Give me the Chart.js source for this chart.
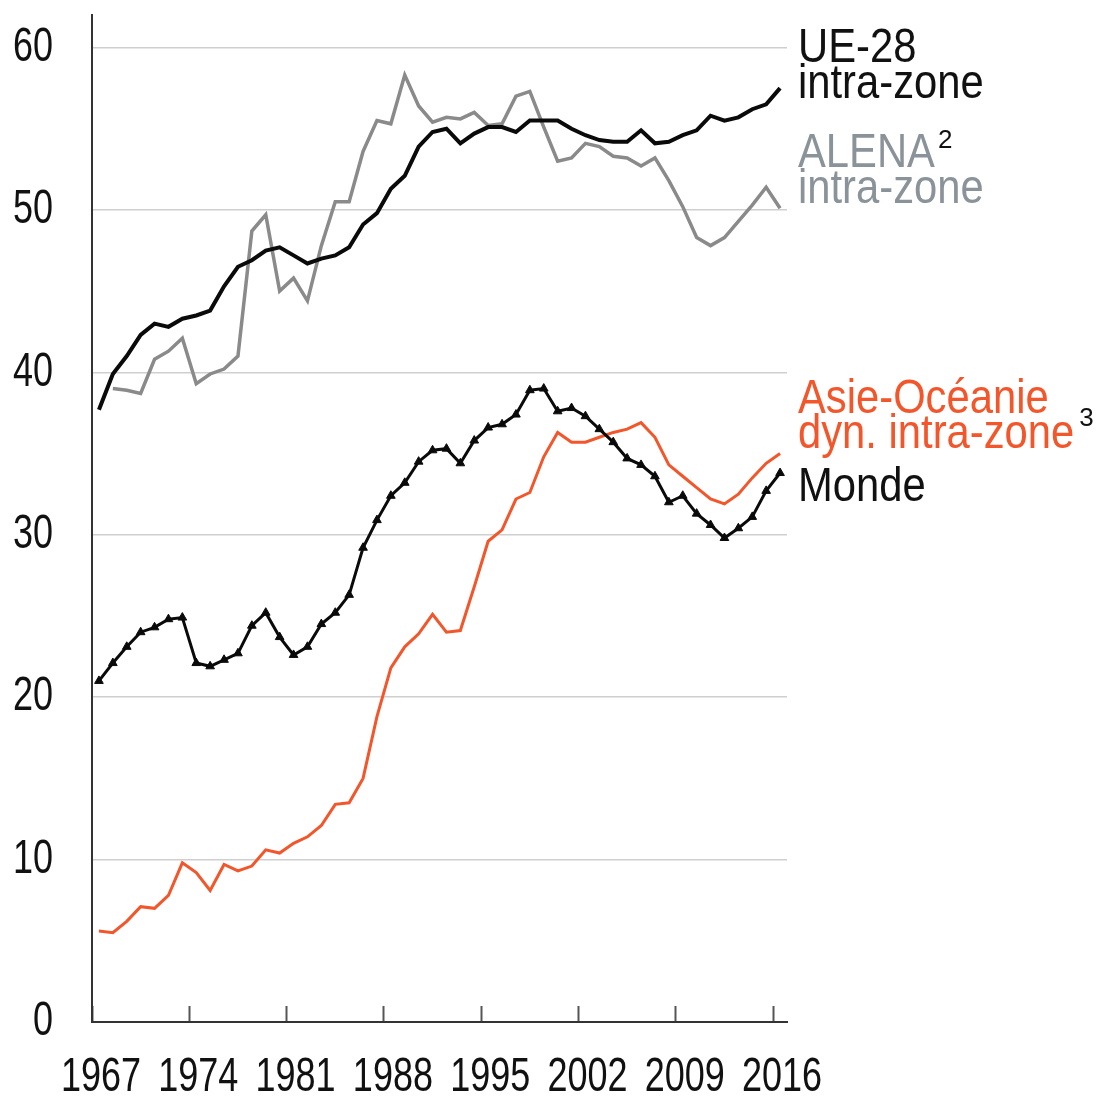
<!DOCTYPE html>
<html>
<head>
<meta charset="utf-8">
<script src="https://cdn.jsdelivr.net/npm/chart.js@4"></script>
<style>
  html, body { margin: 0; padding: 0; background: #fff; }
  canvas { display: block; }
</style>
</head>
<body>
<canvas id="chart" width="1099" height="1097"></canvas>
<script>
// years (annual values, plotted at mid-year)
const years = [1967, 1968, 1969, 1970, 1971, 1972, 1973, 1974, 1975, 1976,
               1977, 1978, 1979, 1980, 1981, 1982, 1983, 1984, 1985, 1986,
               1987, 1988, 1989, 1990, 1991, 1992, 1993, 1994, 1995, 1996,
               1997, 1998, 1999, 2000, 2001, 2002, 2003, 2004, 2005, 2006,
               2007, 2008, 2009, 2010, 2011, 2012, 2013, 2014, 2015, 2016];

const ue28 = [37.7, 39.9, 41.0, 42.3, 43.0, 42.8, 43.3, 43.5, 43.8, 45.3,
              46.5, 46.9, 47.5, 47.7, 47.2, 46.7, 47.0, 47.2, 47.7, 49.1,
              49.8, 51.3, 52.1, 53.9, 54.8, 55.0, 54.1, 54.7, 55.1, 55.1,
              54.8, 55.5, 55.5, 55.5, 55.0, 54.6, 54.3, 54.2, 54.2, 54.9,
              54.1, 54.2, 54.6, 54.9, 55.8, 55.5, 55.7, 56.2, 56.5, 57.5];

const alena = [null, 39.0, 38.9, 38.7, 40.8, 41.3, 42.1, 39.3, 39.9, 40.2,
               41.0, 48.7, 49.7, 45.0, 45.8, 44.4, 47.8, 50.5, 50.5, 53.6,
               55.5, 55.3, 58.3, 56.4, 55.4, 55.7, 55.6, 56.0, 55.2, 55.3,
               57.0, 57.3, 55.1, 53.0, 53.2, 54.1, 53.9, 53.3, 53.2, 52.7,
               53.2, 51.8, 50.2, 48.3, 47.8, 48.3, 49.3, 50.3, 51.4, 50.1];

const monde = [21.0, 22.1, 23.1, 24.0, 24.3, 24.8, 24.9, 22.1, 21.9, 22.3,
               22.7, 24.4, 25.2, 23.7, 22.6, 23.1, 24.5, 25.2, 26.3, 29.2,
               30.9, 32.4, 33.2, 34.5, 35.2, 35.3, 34.4, 35.8, 36.6, 36.8,
               37.4, 38.9, 39.0, 37.6, 37.8, 37.3, 36.5, 35.7, 34.7, 34.3,
               33.6, 32.0, 32.4, 31.3, 30.6, 29.8, 30.4, 31.1, 32.7, 33.8];

const asieOceanie = [5.6, 5.5, 6.2, 7.1, 7.0, 7.8, 9.8, 9.2, 8.1, 9.7,
                     9.3, 9.6, 10.6, 10.4, 11.0, 11.4, 12.1, 13.4, 13.5, 15.0,
                     18.8, 21.8, 23.1, 23.9, 25.1, 24.0, 24.1, 26.8, 29.6, 30.3,
                     32.2, 32.6, 34.8, 36.3, 35.7, 35.7, 36.0, 36.3, 36.5, 36.9,
                     36.0, 34.3, 33.6, 32.9, 32.2, 31.9, 32.5, 33.5, 34.4, 35.0];

const xTicks = [1967, 1974, 1981, 1988, 1995, 2002, 2009, 2016];
const yTicks = [0, 10, 20, 30, 40, 50, 60];

const ORANGE = '#f2562a';
const GREY_LINE = '#8a8a8a';
const GREY_TEXT = '#8b939a';
const FONT = "'Liberation Sans', Arial, sans-serif";

function toPoints(values) {
  return values.map((v, i) => ({ x: years[i] + 0.5, y: v }));
}

// the original uses a narrow typeface: squeeze text horizontally
const narrowText = {
  id: 'narrowText',
  beforeInit(chart) {
    const ctx = chart.ctx;
    const orig = ctx.fillText;
    ctx.fillText = function (text, x, y, maxWidth) {
      const sx = this.__sx || 1;
      if (sx === 1) {
        return maxWidth === undefined ? orig.call(this, text, x, y) : orig.call(this, text, x, y, maxWidth);
      }
      this.save();
      this.translate(x, y);
      this.scale(sx, 1);
      if (maxWidth === undefined) orig.call(this, text, 0, 0);
      else orig.call(this, text, 0, 0, maxWidth / sx);
      this.restore();
    };
  },
  beforeDraw(chart) {
    chart.ctx.__sx = 0.75;
  },
  afterDraw(chart) {
    chart.ctx.__sx = 1;
  }
};

// series names drawn at the right of the plot
const seriesLabels = {
  id: 'seriesLabels',
  afterDraw(chart) {
    const ctx = chart.ctx;
    const sx = 0.87;
    ctx.save();
    ctx.__sx = sx;
    ctx.textAlign = 'left';
    ctx.textBaseline = 'alphabetic';
    const x = 798;
    ctx.font = '48px ' + FONT;
    ctx.fillStyle = '#111';
    ctx.fillText('UE-28', x, 62);
    ctx.fillText('intra-zone', x, 98);
    ctx.fillStyle = GREY_TEXT;
    ctx.fillText('ALENA', x, 167);
    const wAlena = ctx.measureText('ALENA').width * sx;
    ctx.fillText('intra-zone', x, 203);
    ctx.fillStyle = ORANGE;
    ctx.fillText('Asie-Océanie', x, 413);
    ctx.fillText('dyn. intra-zone', x, 448);
    const wDyn = ctx.measureText('dyn. intra-zone').width * sx;
    ctx.fillStyle = '#111';
    ctx.fillText('Monde', x, 501);
    ctx.__sx = 1;
    ctx.font = '26px ' + FONT;
    ctx.fillText('2', x + wAlena + 3, 148);
    ctx.fillText('3', x + wDyn + 5, 426);
    ctx.restore();
  }
};

new Chart(document.getElementById('chart').getContext('2d'), {
  type: 'line',
  data: {
    datasets: [
      {
        label: 'UE-28 intra-zone',
        data: toPoints(ue28),
        borderColor: '#0a0a0a',
        borderWidth: 4,
        pointRadius: 0,
        tension: 0
      },
      {
        label: 'Monde',
        data: toPoints(monde),
        borderColor: '#0a0a0a',
        backgroundColor: '#0a0a0a',
        borderWidth: 3,
        pointStyle: 'triangle',
        pointRadius: 5,
        pointBorderWidth: 1,
        tension: 0
      },
      {
        label: 'ALENA intra-zone',
        data: toPoints(alena),
        borderColor: GREY_LINE,
        borderWidth: 3.5,
        pointRadius: 0,
        tension: 0
      },
      {
        label: 'Asie-Océanie dyn. intra-zone',
        data: toPoints(asieOceanie),
        borderColor: ORANGE,
        borderWidth: 3,
        pointRadius: 0,
        tension: 0
      }
    ]
  },
  options: {
    responsive: false,
    devicePixelRatio: 1,
    animation: false,
    layout: { padding: { top: 15, right: 312, left: 0, bottom: 0 } },
    plugins: {
      legend: { display: false },
      tooltip: { enabled: false }
    },
    scales: {
      x: {
        type: 'linear',
        min: 1967,
        max: 2017,
        afterBuildTicks(scale) {
          scale.ticks = xTicks.map(v => ({ value: v }));
        },
        afterFit(scale) {
          scale.height = 75;
          scale.paddingLeft = 0;
          scale.paddingRight = 0;
        },
        border: { display: true, color: '#333', width: 2 },
        grid: {
          display: true,
          drawOnChartArea: false,
          drawTicks: true,
          tickLength: -16,
          tickColor: '#555',
          tickWidth: 2
        },
        ticks: {
          autoSkip: false,
          maxRotation: 0,
          padding: 43,
          labelOffset: 9,
          color: '#111',
          font: { family: FONT, size: 48 },
          callback: v => String(v)
        }
      },
      y: {
        min: 0,
        max: 62,
        afterBuildTicks(scale) {
          scale.ticks = yTicks.map(v => ({ value: v }));
        },
        afterFit(scale) {
          scale.width = 92;
          scale.paddingTop = 0;
          scale.paddingBottom = 0;
        },
        border: { display: true, color: '#333', width: 2 },
        grid: {
          color: '#cfcfcf',
          lineWidth: 1.5,
          drawTicks: false
        },
        ticks: {
          padding: 39,
          color: '#111',
          font: { family: FONT, size: 48 }
        }
      }
    }
  },
  plugins: [narrowText, seriesLabels]
});
</script>
</body>
</html>
